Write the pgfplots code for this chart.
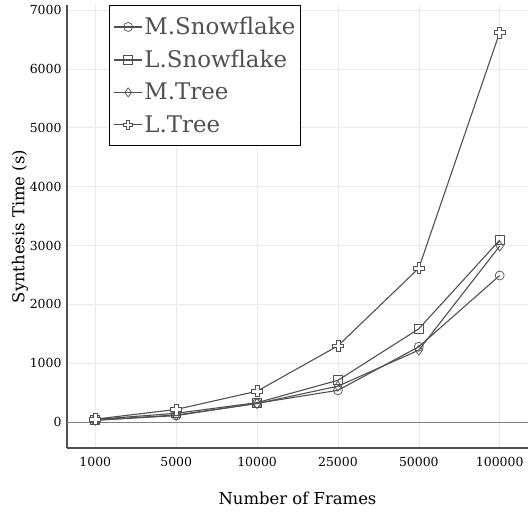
\documentclass[border=0pt]{standalone}
\usepackage{pgfplots}
\pgfplotsset{compat=1.18}
\usepackage{fontspec}
\setmainfont{DejaVu Serif}
\definecolor{lc}{HTML}{505050}
\definecolor{gc}{HTML}{EBEBEB}
\pgfdeclareplotmark{oplus}{%
  \pgfpathmoveto{\pgfqpoint{-0.35\pgfplotmarksize}{\pgfplotmarksize}}%
  \pgfpathlineto{\pgfqpoint{0.35\pgfplotmarksize}{\pgfplotmarksize}}%
  \pgfpathlineto{\pgfqpoint{0.35\pgfplotmarksize}{0.35\pgfplotmarksize}}%
  \pgfpathlineto{\pgfqpoint{\pgfplotmarksize}{0.35\pgfplotmarksize}}%
  \pgfpathlineto{\pgfqpoint{\pgfplotmarksize}{-0.35\pgfplotmarksize}}%
  \pgfpathlineto{\pgfqpoint{0.35\pgfplotmarksize}{-0.35\pgfplotmarksize}}%
  \pgfpathlineto{\pgfqpoint{0.35\pgfplotmarksize}{-\pgfplotmarksize}}%
  \pgfpathlineto{\pgfqpoint{-0.35\pgfplotmarksize}{-\pgfplotmarksize}}%
  \pgfpathlineto{\pgfqpoint{-0.35\pgfplotmarksize}{-0.35\pgfplotmarksize}}%
  \pgfpathlineto{\pgfqpoint{-\pgfplotmarksize}{-0.35\pgfplotmarksize}}%
  \pgfpathlineto{\pgfqpoint{-\pgfplotmarksize}{0.35\pgfplotmarksize}}%
  \pgfpathlineto{\pgfqpoint{-0.35\pgfplotmarksize}{0.35\pgfplotmarksize}}%
  \pgfpathclose
  \pgfusepathqfillstroke}
\begin{document}
\begin{tikzpicture}[x=1bp,y=1bp]
\begin{axis}[
  name=ax,
  scale only axis,
  width=461bp, height=443bp,
  xmin=-0.35, xmax=5.35,
  ymin=-440, ymax=7085,
  xtick={0,1,2,3,4,5},
  xticklabels={1000,5000,10000,25000,50000,100000},
  ytick={0,1000,2000,3000,4000,5000,6000,7000},
  major tick length=0pt,
  grid=major,
  grid style={gc, line width=0.6bp},
  axis x line*=bottom,
  axis y line*=left,
  axis line style={lc, line width=1.5bp, -},
  /pgf/number format/assume math mode=true,
  /pgf/number format/set thousands separator={},
  ticklabel style={font=\fontsize{12.5}{14}\selectfont, black},
  xticklabel style={yshift=-6bp},
  yticklabel style={xshift=-2bp},
  xlabel={Number of Frames},
  ylabel={Synthesis Time (s)},
  label style={font=\fontsize{16.5}{19}\selectfont},
  xlabel style={at={(axis description cs:0.5,-0.113)}, anchor=center},
  ylabel style={at={(axis description cs:-0.102,0.5)}, anchor=center},
  legend style={at={(0.091,1.0)}, anchor=north west, draw=black, line width=1bp,
    font=\fontsize{23}{27}\selectfont, text=lc, inner xsep=4bp, inner ysep=10bp, row sep=10bp,
    nodes={inner xsep=1.5bp}},
  legend cell align=left,
  legend image code/.code={%
    \draw[line width=1.4bp, mark repeat=2, mark phase=2, mark size=4.5bp] plot coordinates {(0bp,0bp) (14bp,0bp) (28bp,0bp)};},
  every axis plot/.append style={lc, line width=1.1bp, mark size=4.5bp, mark options={solid, fill=white, line width=0.7bp}},
]
\addplot[gray, line width=0.9bp, forget plot] coordinates {(-0.35,0) (5.35,0)};
\addplot[mark=o] coordinates {(0,30) (1,110) (2,320) (3,540) (4,1280) (5,2490)};
\addlegendentry{M.Snowflake}
\addplot[mark=square] coordinates {(0,45) (1,150) (2,330) (3,710) (4,1585) (5,3090)};
\addlegendentry{L.Snowflake}
\addplot[mark=diamond, mark size=5bp] coordinates {(0,35) (1,120) (2,315) (3,610) (4,1222) (5,2990)};
\addlegendentry{M.Tree}
\addplot[mark=oplus, mark size=5.5bp] coordinates {(0,50) (1,215) (2,525) (3,1295) (4,2615) (5,6620)};
\addlegendentry{L.Tree}
\end{axis}
\path (ax.south west) +(-67bp,-64bp) (ax.north east) +(2bp,5bp);
\end{tikzpicture}
\end{document}
